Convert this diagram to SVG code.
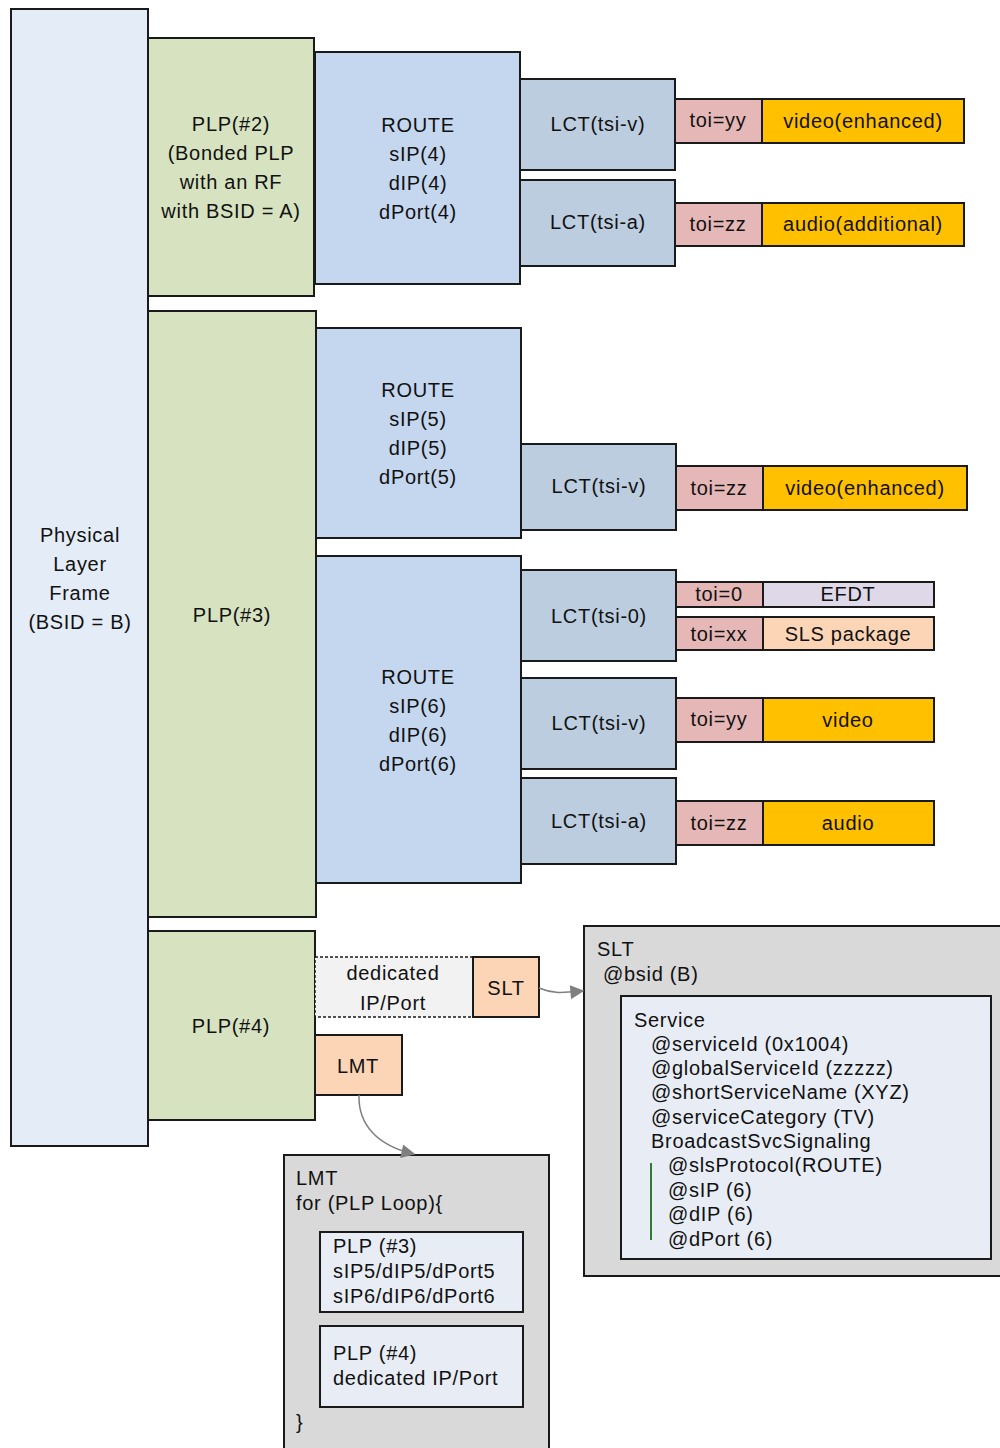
<svg xmlns="http://www.w3.org/2000/svg" width="1000" height="1448" viewBox="0 0 1000 1448">
<style>
  rect { stroke: #1a1a1a; stroke-width: 2; }
  text { font-family: "Liberation Sans", Arial, sans-serif; font-size: 20px; fill: #111; letter-spacing: 0.7px; }
  .c { text-anchor: middle; }
  .phy { fill: #e4ecf7; }
  .plp { fill: #d7e3c0; }
  .route { fill: #c5d7ef; }
  .lct { fill: #bccde0; }
  .toi { fill: #e5b8b7; }
  .media { fill: #ffc000; }
  .efdt { fill: #dfd8e8; }
  .peach { fill: #fbd5b5; }
  .gray { fill: #d9d9d9; }
  .inner { fill: #e8edf5; }
  .conn { fill: none; stroke: #7f7f7f; stroke-width: 1.5; }
</style>
<defs>
  <marker id="arr" viewBox="0 0 10 10" refX="9" refY="5" markerWidth="18" markerHeight="14" markerUnits="userSpaceOnUse" orient="auto">
    <path d="M0,0 L10,5 L0,10 z" fill="#7f7f7f"/>
  </marker>
</defs>
<rect width="1000" height="1448" fill="#ffffff" style="stroke:none"/>

<g id="physical">
  <rect class="phy" x="11" y="9" width="137" height="1137"/>
  <text class="c" x="80" y="542">Physical</text>
  <text class="c" x="80" y="571">Layer</text>
  <text class="c" x="80" y="600">Frame</text>
  <text class="c" x="80" y="629">(BSID = B)</text>
</g>

<g id="plp2">
  <rect class="plp" x="148" y="38" width="166" height="258"/>
  <text class="c" x="231" y="131">PLP(#2)</text>
  <text class="c" x="231" y="160">(Bonded PLP</text>
  <text class="c" x="231" y="189">with an RF</text>
  <text class="c" x="231" y="218">with BSID = A)</text>
</g>
<g id="route4">
  <rect class="route" x="315" y="52" width="205" height="232"/>
  <text class="c" x="418" y="132">ROUTE</text>
  <text class="c" x="418" y="161">sIP(4)</text>
  <text class="c" x="418" y="190">dIP(4)</text>
  <text class="c" x="418" y="219">dPort(4)</text>
</g>
<g id="lct4v">
  <rect class="lct" x="520" y="79" width="155" height="91"/>
  <text class="c" x="598" y="131">LCT(tsi-v)</text>
</g>
<g id="lct4a">
  <rect class="lct" x="520" y="180" width="155" height="86"/>
  <text class="c" x="598" y="229">LCT(tsi-a)</text>
</g>
<g id="toi4yy">
  <rect class="toi" x="675" y="99" width="87" height="44"/>
  <text class="c" x="718" y="127">toi=yy</text>
</g>
<g id="video4">
  <rect class="media" x="762" y="99" width="202" height="44"/>
  <text class="c" x="863" y="128">video(enhanced)</text>
</g>
<g id="toi4zz">
  <rect class="toi" x="675" y="203" width="87" height="43"/>
  <text class="c" x="718" y="231">toi=zz</text>
</g>
<g id="audio4">
  <rect class="media" x="762" y="203" width="202" height="43"/>
  <text class="c" x="863" y="231">audio(additional)</text>
</g>

<g id="plp3">
  <rect class="plp" x="148" y="311" width="168" height="606"/>
  <text class="c" x="232" y="622">PLP(#3)</text>
</g>
<g id="route5">
  <rect class="route" x="316" y="328" width="205" height="210"/>
  <text class="c" x="418" y="397">ROUTE</text>
  <text class="c" x="418" y="426">sIP(5)</text>
  <text class="c" x="418" y="455">dIP(5)</text>
  <text class="c" x="418" y="484">dPort(5)</text>
</g>
<g id="lct5v">
  <rect class="lct" x="521" y="444" width="155" height="86"/>
  <text class="c" x="599" y="493">LCT(tsi-v)</text>
</g>
<g id="toi5zz">
  <rect class="toi" x="676" y="466" width="87" height="44"/>
  <text class="c" x="719" y="495">toi=zz</text>
</g>
<g id="video5">
  <rect class="media" x="763" y="466" width="204" height="44"/>
  <text class="c" x="865" y="495">video(enhanced)</text>
</g>

<g id="route6">
  <rect class="route" x="316" y="556" width="205" height="327"/>
  <text class="c" x="418" y="684">ROUTE</text>
  <text class="c" x="418" y="713">sIP(6)</text>
  <text class="c" x="418" y="742">dIP(6)</text>
  <text class="c" x="418" y="771">dPort(6)</text>
</g>
<g id="lct6-0">
  <rect class="lct" x="521" y="570" width="155" height="91"/>
  <text class="c" x="599" y="623">LCT(tsi-0)</text>
</g>
<g id="toi0">
  <rect class="toi" x="676" y="582" width="87" height="25"/>
  <text class="c" x="719" y="601">toi=0</text>
</g>
<g id="efdt">
  <rect class="efdt" x="763" y="582" width="171" height="25"/>
  <text class="c" x="848" y="601">EFDT</text>
</g>
<g id="toixx">
  <rect class="toi" x="676" y="617" width="87" height="33"/>
  <text class="c" x="719" y="641">toi=xx</text>
</g>
<g id="sls">
  <rect class="peach" x="763" y="617" width="171" height="33"/>
  <text class="c" x="848" y="641">SLS package</text>
</g>
<g id="lct6v">
  <rect class="lct" x="521" y="678" width="155" height="91"/>
  <text class="c" x="599" y="730">LCT(tsi-v)</text>
</g>
<g id="toi6yy">
  <rect class="toi" x="676" y="698" width="87" height="44"/>
  <text class="c" x="719" y="726">toi=yy</text>
</g>
<g id="video6">
  <rect class="media" x="763" y="698" width="171" height="44"/>
  <text class="c" x="848" y="727">video</text>
</g>
<g id="lct6a">
  <rect class="lct" x="521" y="778" width="155" height="86"/>
  <text class="c" x="599" y="828">LCT(tsi-a)</text>
</g>
<g id="toi6zz">
  <rect class="toi" x="676" y="801" width="87" height="44"/>
  <text class="c" x="719" y="830">toi=zz</text>
</g>
<g id="audio6">
  <rect class="media" x="763" y="801" width="171" height="44"/>
  <text class="c" x="848" y="830">audio</text>
</g>

<g id="plp4">
  <rect class="plp" x="148" y="931" width="167" height="189"/>
  <text class="c" x="231" y="1033">PLP(#4)</text>
</g>
<g id="dedicated">
  <rect x="315" y="957" width="158" height="60" fill="#f2f2f2" style="stroke-dasharray:3 2;stroke-width:1.5"/>
  <text class="c" x="393" y="980">dedicated</text>
  <text class="c" x="393" y="1010">IP/Port</text>
</g>
<g id="slt-small">
  <rect class="peach" x="473" y="957" width="66" height="60"/>
  <text class="c" x="506" y="995">SLT</text>
</g>
<g id="lmt-small">
  <rect class="peach" x="315" y="1035" width="87" height="60"/>
  <text class="c" x="358" y="1073">LMT</text>
</g>

<g id="slt-table">
  <rect class="gray" x="584" y="926" width="420" height="350"/>
  <text x="597" y="956">SLT</text>
  <text x="603" y="981">@bsid (B)</text>
  <rect class="inner" x="621" y="996" width="370" height="263"/>
  <text x="634" y="1027">Service</text>
  <text x="651" y="1051">@serviceId (0x1004)</text>
  <text x="651" y="1075">@globalServiceId (zzzzz)</text>
  <text x="651" y="1099">@shortServiceName (XYZ)</text>
  <text x="651" y="1124">@serviceCategory (TV)</text>
  <text x="651" y="1148">BroadcastSvcSignaling</text>
  <line x1="651" y1="1163" x2="651" y2="1240" stroke="#2e7d32" stroke-width="2"/>
  <text x="668" y="1172">@slsProtocol(ROUTE)</text>
  <text x="668" y="1197">@sIP (6)</text>
  <text x="668" y="1221">@dIP (6)</text>
  <text x="668" y="1246">@dPort (6)</text>
</g>

<g id="lmt-table">
  <rect class="gray" x="284" y="1155" width="265" height="300"/>
  <text x="296" y="1185">LMT</text>
  <text x="296" y="1210">for (PLP Loop){</text>
  <rect class="inner" x="320" y="1232" width="203" height="80"/>
  <text x="333" y="1253">PLP (#3)</text>
  <text x="333" y="1278">sIP5/dIP5/dPort5</text>
  <text x="333" y="1303">sIP6/dIP6/dPort6</text>
  <rect class="inner" x="320" y="1326" width="203" height="81"/>
  <text x="333" y="1360">PLP (#4)</text>
  <text x="333" y="1385">dedicated IP/Port</text>
  <text x="296" y="1429">}</text>
</g>

<g id="connectors">
  <path class="conn" d="M539,988 C553,994 562,993 583,991" marker-end="url(#arr)"/>
  <path class="conn" d="M359,1095 C358,1125 378,1146 414,1154" marker-end="url(#arr)"/>
</g>
</svg>
